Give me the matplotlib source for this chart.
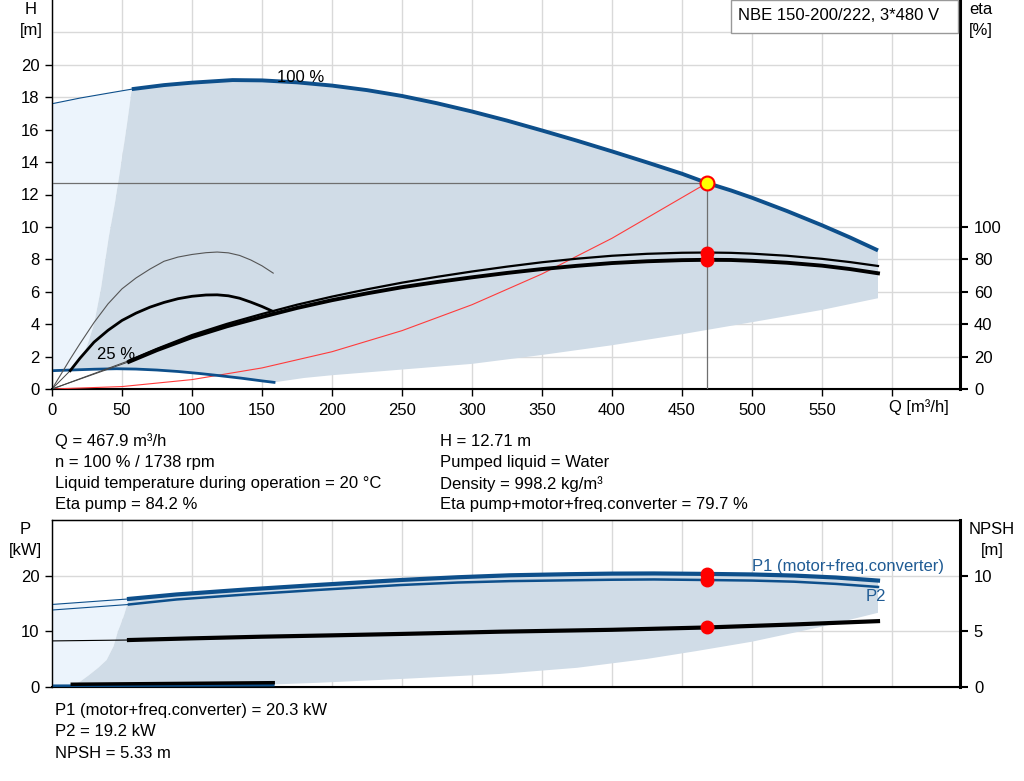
import numpy as np
import matplotlib.pyplot as plt
from matplotlib.patches import Rectangle
from matplotlib.transforms import blended_transform_factory

plt.rcParams['font.family'] = ['Liberation Sans', 'DejaVu Sans']
plt.rcParams['font.size'] = 12

# pump curve at 100 % speed (Q in m3/h, H in m)
q_h100 = [0, 20, 40, 57, 80, 100, 129, 150, 175, 200, 225, 250, 275, 300, 325, 350, 375,
          400, 425, 450, 467.9, 485, 500, 525, 550, 570, 590]
h100 = [17.6, 17.95, 18.25, 18.5, 18.75, 18.9, 19.06, 19.04, 18.92, 18.72, 18.44, 18.08, 17.63,
        17.12, 16.56, 15.95, 15.32, 14.66, 13.98, 13.28, 12.71, 12.25, 11.8, 10.98, 10.1, 9.35, 8.55]

# pump curve at 25 % speed
q_h25 = [0, 13, 30, 46, 60, 75, 90, 105, 120, 135, 150, 158.6]
h25 = [1.13, 1.17, 1.22, 1.25, 1.23, 1.17, 1.08, 0.96, 0.82, 0.67, 0.5, 0.41]

# efficiencies at 100 % speed (%)
q_eta = [0, 55, 75, 100, 125, 150, 175, 200, 225, 250, 275, 300, 325, 350, 375, 400, 425,
         450, 467.9, 485, 500, 525, 550, 570, 590]
eta_pump = [0, 17.5, 24.8, 33.3, 40.2, 46.3, 52.0, 57.0, 61.5, 65.6, 69.2, 72.5, 75.5, 78.2,
            80.4, 82.2, 83.4, 84.05, 84.2, 84.0, 83.5, 82.2, 80.3, 78.3, 75.9]
eta_total = [0, 16.8, 24.0, 32.0, 38.7, 44.5, 50.0, 54.8, 59.0, 62.8, 66.0, 68.9, 71.6, 74.0,
             76.0, 77.7, 78.8, 79.5, 79.7, 79.6, 79.1, 77.9, 76.1, 74.0, 71.4]

# efficiencies at 25 % speed
q_eta25 = [0, 13, 20, 30, 40, 50, 60, 70, 80, 90, 100, 110, 118, 126, 134, 142, 150, 158]
eta25_total = [0, 11.3, 19, 28.9, 36.2, 42.3, 46.8, 50.5, 53.4, 55.7, 57.2, 58.0, 58.1, 57.5,
               56.0, 53.6, 50.9, 47.8]
q_eta25p = [0, 6, 13, 20, 30, 40, 50, 60, 70, 80, 90, 100, 110, 118, 126, 134, 142, 150, 158]
eta25_pump = [0, 8.5, 18.5, 28, 41, 52.5, 61.8, 68.5, 74, 78.8, 81.4, 83.0, 84.1, 84.5, 84.0,
              82.4, 79.6, 76.0, 71.5]

# system curve
q_sys = [0, 50, 100, 150, 200, 250, 300, 350, 400, 467.9]
h_sys = [0, 0.15, 0.58, 1.3, 2.3, 3.6, 5.2, 7.1, 9.3, 12.71]

# operating range boundaries (H)
q_left = [13, 17, 22, 26, 30, 35, 40.5, 45, 50, 53.5, 57]
h_left = [1.17, 1.5, 2.0, 2.9, 4.0, 6.2, 9.35, 11.5, 14.25, 16.3, 18.5]
q_low = [158.6, 180, 200, 250, 300, 350, 400, 450, 500, 550, 590]
h_low = [0.41, 0.68, 0.85, 1.2, 1.55, 2.1, 2.7, 3.38, 4.12, 4.88, 5.6]

# power (kW) and NPSH (m)
q_p = [0, 55, 89, 139, 189, 249, 290, 327, 370, 400, 430, 467.9, 500, 530, 560, 590]
p1 = [14.8, 15.8, 16.6, 17.5, 18.3, 19.2, 19.7, 20.05, 20.25, 20.35, 20.38, 20.3, 20.2, 20.0,
      19.65, 19.1]
p2 = [13.8, 14.8, 15.7, 16.6, 17.4, 18.3, 18.75, 19.0, 19.15, 19.25, 19.3, 19.2, 19.1, 18.9,
      18.5, 17.95]
q_npsh = [0, 55, 100, 150, 200, 250, 320, 400, 467.9, 530, 590]
npsh = [4.12, 4.2, 4.35, 4.5, 4.62, 4.75, 4.95, 5.12, 5.33, 5.6, 5.9]
q_p25 = [0, 158]
p1_25 = [0.15, 0.3]
q_npsh25 = [14.5, 158]
npsh25 = [0.22, 0.36]
q_pleft = [14.5, 20, 26, 33, 39, 44, 47, 51, 55]
p_left = [0.4, 0.9, 2.0, 3.4, 4.8, 7.3, 9.9, 12.5, 15.8]
q_plow = [147, 190, 250, 320, 375, 425, 460, 500, 550, 590]
p_low = [0.3, 0.7, 1.4, 2.3, 3.4, 5.0, 6.4, 8.1, 10.8, 13.3]

q_op = 467.9
h_op = 12.71
eta_op = [84.2, 79.7]
p_op = [20.3, 19.2]
npsh_op = 5.33

info_left = ['Q = 467.9 m³/h', 'n = 100 % / 1738 rpm',
             'Liquid temperature during operation = 20 °C', 'Eta pump = 84.2 %']
info_right = ['H = 12.71 m', 'Pumped liquid = Water',
              'Density = 998.2 kg/m³', 'Eta pump+motor+freq.converter = 79.7 %']
info_bottom = ['P1 (motor+freq.converter) = 20.3 kW', 'P2 = 19.2 kW', 'NPSH = 5.33 m']

blue = '#0d4f8b'
dark_fill = '#d0dce7'
light_fill = '#ecf4fc'
grid_c = '#d9d9d9'

W, H = 1024, 781
fig = plt.figure(figsize=(W / 100, H / 100), dpi=100)


def fx(px):
    return px / W


def fy(py):
    return 1 - py / H


ax1 = fig.add_axes([fx(52), fy(389), fx(960 - 52), 389 / H])
ax1r = ax1.twinx()
ax2 = fig.add_axes([fx(52), fy(686.7), fx(960 - 52), (686.7 - 520) / H])
ax2r = ax2.twinx()

xmax = (960 - 52) / 1.4

# ---- top panel ----
qh = np.array(q_h100)
hh = np.array(h100)
thick = qh >= 57
thin = qh <= 57
qa = np.array(q_h25)
ha = np.array(h25)

# light region left of the operating range
lx = [0] + list(qh[thin]) + q_left[::-1] + list(qa[qa <= 13][::-1])
ly = [h25[0]] + list(hh[thin]) + h_left[::-1] + list(ha[qa <= 13][::-1])
ax1.fill(lx, ly, color=light_fill, lw=0, zorder=1)

# operating range
dx = q_left + list(qh[thick]) + q_low[::-1] + list(qa[qa >= 13][::-1])
dy = h_left + list(hh[thick]) + h_low[::-1] + list(ha[qa >= 13][::-1])
ax1.fill(dx, dy, color=dark_fill, lw=0, zorder=1)

ax1.axhline(22, color=grid_c, lw=1, zorder=0)
ax1.plot(qh[thin], hh[thin], color=blue, lw=0.8, zorder=4)
ax1.plot(qh[thick], hh[thick], color=blue, lw=2.8, zorder=4, solid_capstyle='butt')
ax1.plot(q_h25, h25, color=blue, lw=2.0, zorder=4)
ax1.plot(q_sys, h_sys, color='#ff3b3b', lw=0.8, zorder=3)

ax1.plot([0, q_op], [h_op, h_op], color='#6f6f6f', lw=0.9, zorder=3)
ax1.plot([q_op, q_op], [0, h_op], color='#6f6f6f', lw=0.9, zorder=3)
ax1.plot([q_op], [h_op], marker='o', ms=10, mfc='#ffff00', mec='#ff0000', mew=1.5, zorder=6)

ax1.text(160.5, 19.2, '100 %', va='center', ha='left', zorder=7)
ax1.text(32, 2.1, '25 %', va='center', ha='left', zorder=7)

# efficiency curves
qe = np.array(q_eta)
ep = np.array(eta_pump)
et = np.array(eta_total)
st = qe <= 55
th = qe >= 55
ax1r.plot(qe[st], ep[st], color='#444444', lw=0.7)
ax1r.plot(qe[st], et[st], color='#444444', lw=0.7)
ax1r.plot(qe[th], ep[th], color='black', lw=1.6)
ax1r.plot(qe[th], et[th], color='black', lw=2.8)
ax1r.plot(q_eta25p, eta25_pump, color='#555555', lw=0.8)
q25 = np.array(q_eta25)
e25 = np.array(eta25_total)
ax1r.plot(q25[q25 <= 13], e25[q25 <= 13], color='#444444', lw=0.7)
ax1r.plot(q25[q25 >= 13], e25[q25 >= 13], color='black', lw=2.0)
ax1r.plot([q_op] * 2, eta_op, 'o', color='#ff0000', ms=9, zorder=6)

ax1.set_xlim(0, xmax)
ax1.set_ylim(0, 24)
ax1r.set_ylim(0, 240)
ax1.set_xticks(range(0, 650, 50))
ax1.set_xticklabels([str(v) for v in range(0, 600, 50)] + [''])
ax1.set_yticks(range(0, 22, 2))
ax1r.set_yticks(range(0, 120, 20))
ax1.grid(True, color=grid_c, lw=1)
ax1.set_axisbelow(True)
tr = blended_transform_factory(ax1.transData, ax1.transAxes)
ax1.text(598, -0.047, 'Q [m³/h]', transform=tr, ha='left', va='center')

# ---- bottom panel ----
qp = np.array(q_p)
pp1 = np.array(p1)
pp2 = np.array(p2)
tk = qp >= 55
tn = qp <= 55

blx = [0] + list(qp[tn]) + q_pleft[::-1]
bly = [p1_25[0]] + list(pp1[tn]) + p_left[::-1]
ax2.fill(blx, bly, color=light_fill, lw=0, zorder=1)
bdx = q_pleft + list(qp[tk]) + q_plow[::-1]
bdy = p_left + list(pp1[tk]) + p_low[::-1]
ax2.fill(bdx, bdy, color=dark_fill, lw=0, zorder=1)

ax2.plot(qp[tn], pp1[tn], color=blue, lw=0.8, zorder=4)
ax2.plot(qp[tn], pp2[tn], color=blue, lw=0.8, zorder=4)
ax2.plot(qp[tk], pp1[tk], color=blue, lw=3.0, zorder=4)
ax2.plot(qp[tk], pp2[tk], color=blue, lw=1.8, zorder=4)
ax2.plot(q_p25, p1_25, color=blue, lw=2.0, zorder=4)
ax2.plot([q_op] * 2, p_op, 'o', color='#ff0000', ms=9, zorder=6)
ax2.text(500, 21.7, 'P1 (motor+freq.converter)', color='#1f5b94', va='center', ha='left')
ax2.text(581, 16.3, 'P2', color='#1f5b94', va='center', ha='left')

qn = np.array(q_npsh)
nn = np.array(npsh)
ax2r.plot(qn[qn <= 55], nn[qn <= 55], color='black', lw=0.8)
ax2r.plot(qn[qn >= 55], nn[qn >= 55], color='black', lw=3.0)
ax2r.plot(q_npsh25, npsh25, color='black', lw=2.5)
ax2r.plot([q_op], [npsh_op], 'o', color='#ff0000', ms=9, zorder=6)

ax2.set_xlim(0, xmax)
ax2.set_ylim(0, 30)
ax2r.set_ylim(0, 15)
ax2.set_xticks(range(0, 650, 50))
ax2.set_xticklabels([])
ax2.tick_params(axis='x', length=0)
ax2.set_yticks([0, 10, 20])
ax2r.set_yticks([0, 5, 10])
ax2.grid(True, color=grid_c, lw=1)
ax2.set_axisbelow(True)

# spines and ticks
for a in (ax1, ax2):
    a.tick_params(axis='y', direction='out', length=5, width=1, pad=4)
    a.spines['left'].set_linewidth(1.0)
    a.spines['left'].set_color('#222222')
    a.spines['bottom'].set_linewidth(1.5)
for a in (ax1r, ax2r):
    a.tick_params(axis='y', direction='out', length=6, width=1.5, pad=4)
    a.spines['right'].set_linewidth(2.2)
ax1.tick_params(axis='x', direction='out', length=5, width=1, pad=5)
ax1.spines['top'].set_visible(False)
ax1r.spines['top'].set_visible(False)
ax2.spines['top'].set_linewidth(1.0)

# axis titles
fig.text(fx(31), fy(10), 'H', ha='center', va='center')
fig.text(fx(31), fy(30), '[m]', ha='center', va='center')
fig.text(fx(981), fy(10), 'eta', ha='center', va='center')
fig.text(fx(981), fy(31), '[%]', ha='center', va='center')
fig.text(fx(25), fy(529), 'P', ha='center', va='center')
fig.text(fx(25), fy(550), '[kW]', ha='center', va='center')
fig.text(fx(992), fy(529), 'NPSH', ha='center', va='center')
fig.text(fx(992), fy(550), '[m]', ha='center', va='center')

# title box
fig.patches.append(Rectangle((fx(731), fy(33)), fx(958 - 731), 33 / H, transform=fig.transFigure,
                             fc='white', ec='#999999', lw=1, zorder=10))
fig.text(fx(738), fy(15), 'NBE 150-200/222, 3*480 V', ha='left', va='center', zorder=11)

for i, s in enumerate(info_left):
    fig.text(fx(55), fy(441 + i * 21.3), s, ha='left', va='center')
for i, s in enumerate(info_right):
    fig.text(fx(440), fy(441 + i * 21.3), s, ha='left', va='center')
for i, s in enumerate(info_bottom):
    fig.text(fx(55), fy(711 + i * 21), s, ha='left', va='center')

fig.savefig('out.png', dpi=100)
